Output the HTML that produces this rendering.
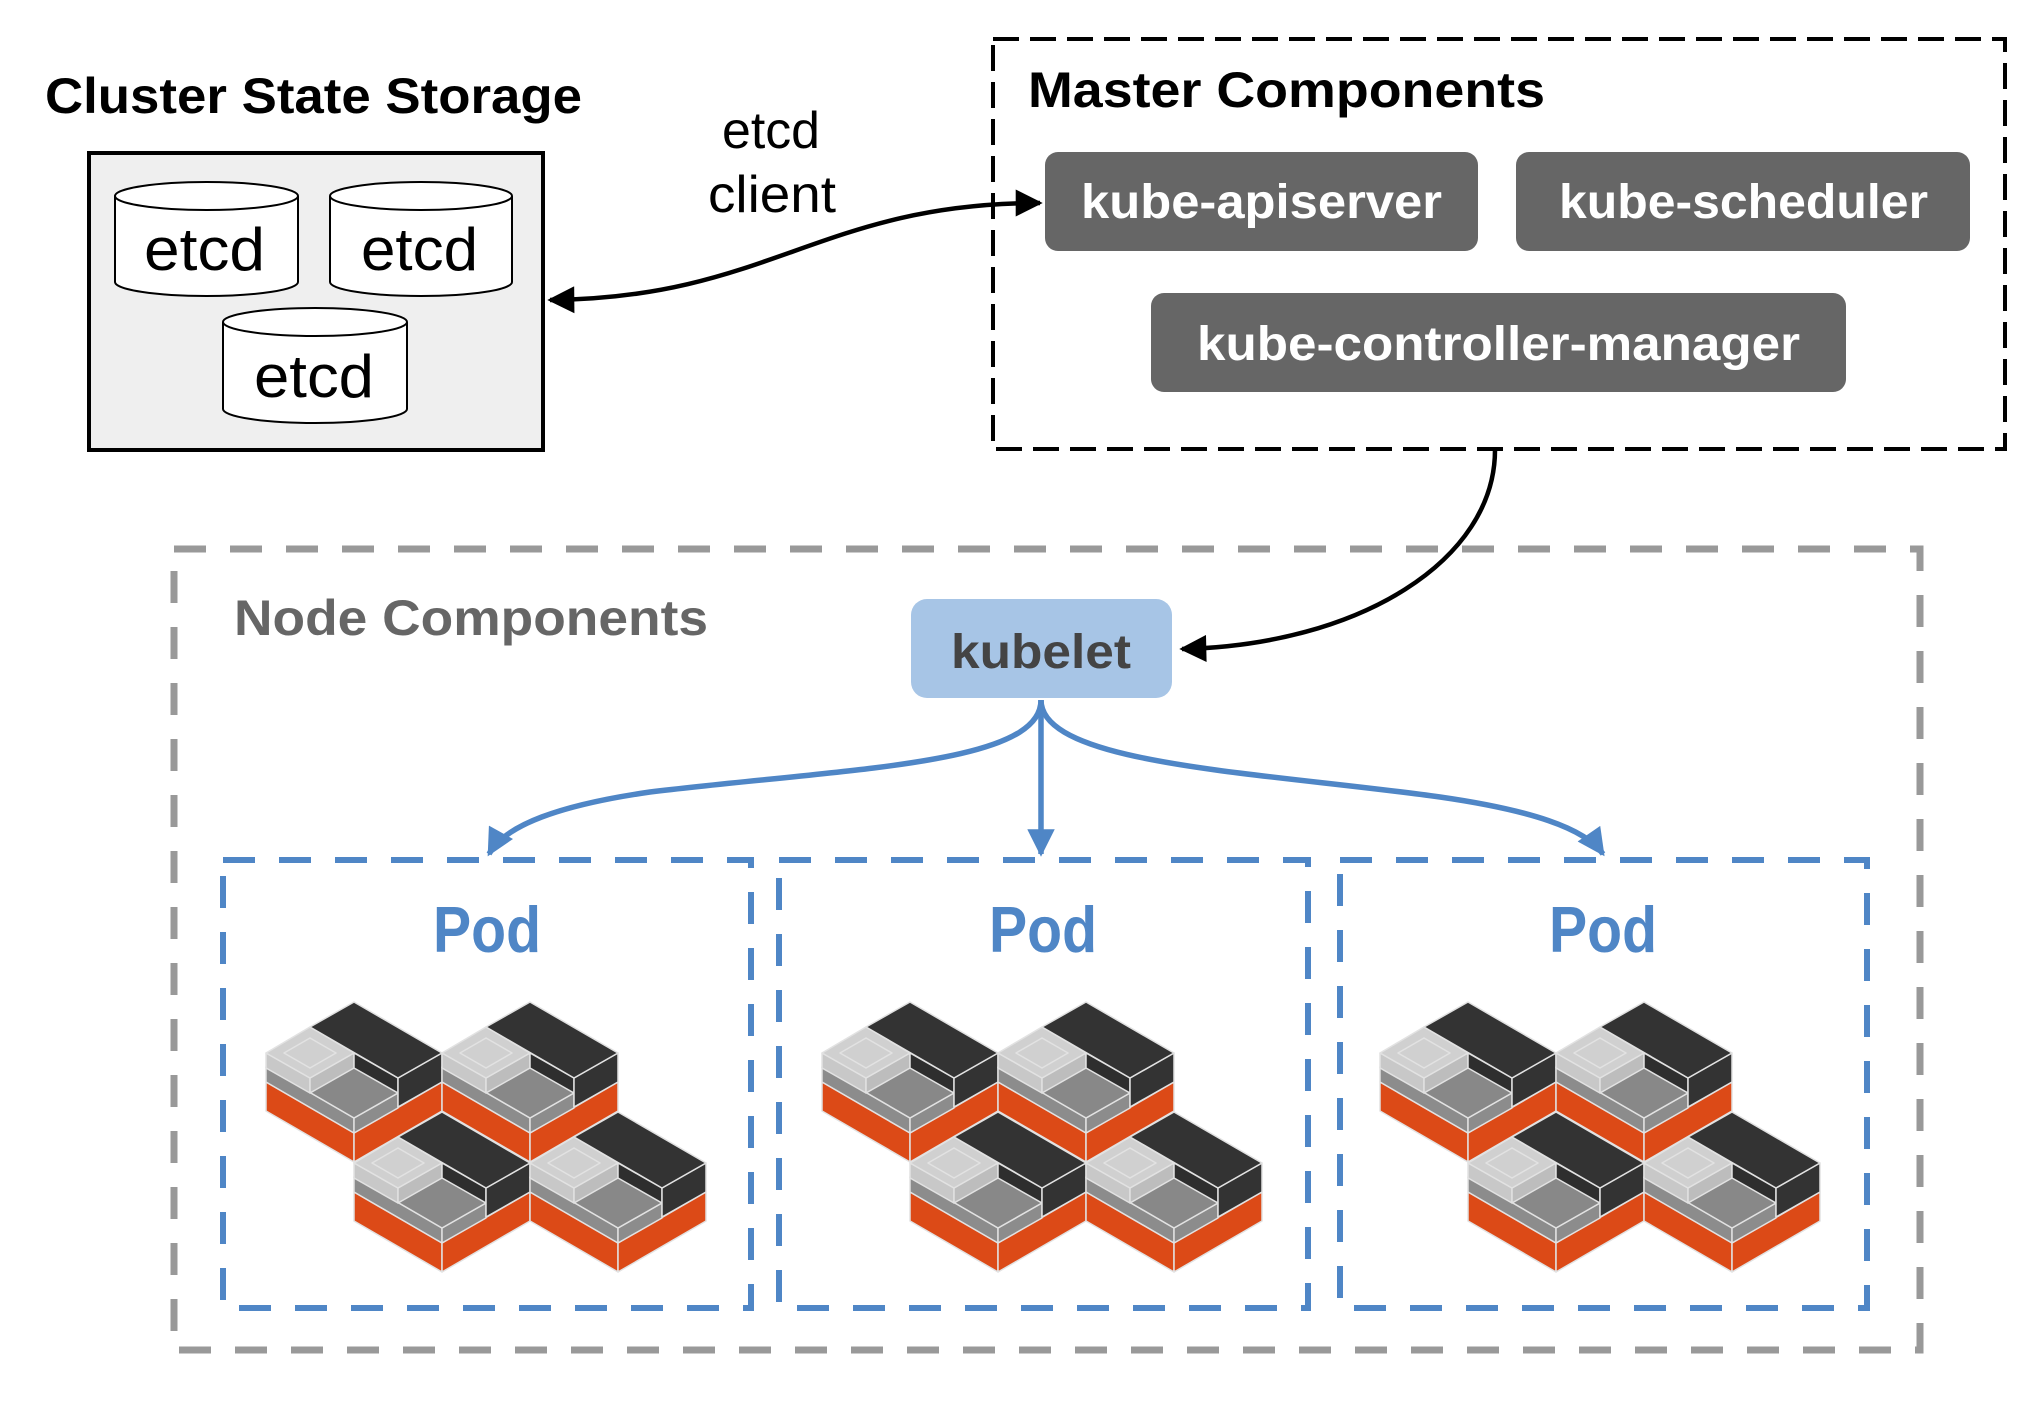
<!DOCTYPE html>
<html><head><meta charset="utf-8"><style>
html,body{margin:0;padding:0;background:#fff;}
svg{display:block;}
text{font-family:"Liberation Sans",sans-serif;font-weight:bold;}
</style></head><body>
<svg width="2036" height="1410" viewBox="0 0 2036 1410" xmlns="http://www.w3.org/2000/svg">
<defs>
<marker id="ab" viewBox="0 0 10 10" refX="9" refY="5" markerWidth="7" markerHeight="6" markerUnits="strokeWidth" orient="auto-start-reverse">
<path d="M0,0 L10,5 L0,10 z" fill="#000"/></marker>
<marker id="ablue" viewBox="0 0 10 10" refX="9" refY="5" markerWidth="5.5" markerHeight="5" markerUnits="strokeWidth" orient="auto">
<path d="M0,0 L10,5 L0,10 z" fill="#4f86c6"/></marker>
<g id="blk" stroke="#e2e2e2" stroke-width="1.5" stroke-linejoin="round">
<polygon points="-88,80 0,131 0,160 -88,109" fill="#dc4a17"/>
<polygon points="0,131 88,80 88,109 0,160" fill="#dc4a17"/>
<polygon points="-88,65 0,116 0,131 -88,80" fill="#8c8c8c"/>
<polygon points="0,116 44,91 44,106 0,131" fill="#8c8c8c"/>
<polygon points="-88,65 -44,40 44,91 0,116" fill="#888"/>
<polygon points="-88,51 -44,76 -44,91 -88,66" fill="#c8c8c8"/>
<polygon points="-44,76 0,51 0,66 -44,91" fill="#bdbdbd"/>
<polygon points="-88,51 -44,25 0,51 -44,76" fill="#d0d0d0"/>
<polygon points="-70,51 -44,36 -18,51 -44,66" fill="none"/>
<polygon points="0,51 44,76 44,91 0,66" fill="#2e2e2e"/>
<polygon points="44,76 88,51 88,80 44,105" fill="#333"/>
<polygon points="0,0 88,51 44,76 -44,25" fill="#333"/>
</g>
<g id="cluster">
<use href="#blk" x="-135" y="1002"/>
<use href="#blk" x="41" y="1002"/>
<use href="#blk" x="-47" y="1112"/>
<use href="#blk" x="129" y="1112"/>
</g>
</defs>

<text x="45" y="113" font-size="50" textLength="537" lengthAdjust="spacingAndGlyphs">Cluster State Storage</text>
<rect x="89" y="153" width="454" height="297" fill="#efefef" stroke="#000" stroke-width="4"/>
<g stroke="#000" stroke-width="2" fill="#fff">
<path d="M115,196 L115,282 A91.5,14 0 0 0 298,282 L298,196"/>
<ellipse cx="206.5" cy="196" rx="91.5" ry="14"/>
<path d="M330,196 L330,282 A91,14 0 0 0 512,282 L512,196"/>
<ellipse cx="421" cy="196" rx="91" ry="14"/>
<path d="M223,322 L223,409 A92,14 0 0 0 407,409 L407,322"/>
<ellipse cx="315" cy="322" rx="92" ry="14"/>
</g>
<text x="144" y="270" font-size="60" textLength="121" lengthAdjust="spacingAndGlyphs" style="font-weight:normal">etcd</text>
<text x="361" y="270" font-size="60" textLength="117" lengthAdjust="spacingAndGlyphs" style="font-weight:normal">etcd</text>
<text x="254" y="397" font-size="60" textLength="120" lengthAdjust="spacingAndGlyphs" style="font-weight:normal">etcd</text>
<text x="722" y="148" font-size="52" textLength="98" lengthAdjust="spacingAndGlyphs" style="font-weight:normal">etcd</text>
<text x="708" y="212" font-size="52" textLength="128" lengthAdjust="spacingAndGlyphs" style="font-weight:normal">client</text>

<path d="M550,300 C770,298 820,203 1040,203" fill="none" stroke="#000" stroke-width="4.5" marker-start="url(#ab)" marker-end="url(#ab)"/>

<rect x="993" y="39" width="1012" height="410" fill="none" stroke="#000" stroke-width="4" stroke-dasharray="26 11"/>
<text x="1028" y="107" font-size="50" textLength="517" lengthAdjust="spacingAndGlyphs">Master Components</text>
<rect x="1045" y="152" width="433" height="99" rx="13" fill="#666"/>
<rect x="1516" y="152" width="454" height="99" rx="13" fill="#666"/>
<rect x="1151" y="293" width="695" height="99" rx="13" fill="#666"/>
<text x="1081" y="218" font-size="48" fill="#fff" textLength="361" lengthAdjust="spacingAndGlyphs">kube-apiserver</text>
<text x="1559" y="218" font-size="48" fill="#fff" textLength="369" lengthAdjust="spacingAndGlyphs">kube-scheduler</text>
<text x="1197" y="360" font-size="48" fill="#fff" textLength="603" lengthAdjust="spacingAndGlyphs">kube-controller-manager</text>

<rect x="174" y="549" width="1746" height="801" fill="none" stroke="#999" stroke-width="7" stroke-dasharray="32 24"/>
<text x="234" y="635" font-size="50" fill="#666" textLength="474" lengthAdjust="spacingAndGlyphs">Node Components</text>

<path d="M1495,450 C1495,560 1360,645 1182,649" fill="none" stroke="#000" stroke-width="4.5" marker-end="url(#ab)"/>

<rect x="911" y="599" width="261" height="99" rx="16" fill="#a7c5e6"/>
<text x="951" y="668" font-size="48" fill="#444" textLength="180" lengthAdjust="spacingAndGlyphs">kubelet</text>

<g fill="none" stroke="#4f86c6" stroke-width="5.5">
<path d="M1041,700 L1041,854" marker-end="url(#ablue)"/>
<path d="M1041,700 C1041,765 850,768 650,792 C560,805 505,825 489,854" marker-end="url(#ablue)"/>
<path d="M1041,700 C1041,765 1260,772 1440,797 C1530,810 1585,828 1603,854" marker-end="url(#ablue)"/>
</g>

<g fill="none" stroke="#4f86c6" stroke-width="6" stroke-dasharray="32 24">
<rect x="223" y="860" width="528" height="448"/>
<rect x="779" y="860" width="529" height="448"/>
<rect x="1340" y="860" width="527" height="448"/>
</g>
<g font-size="65" fill="#4f86c6">
<text x="433" y="952" textLength="108" lengthAdjust="spacingAndGlyphs">Pod</text>
<text x="989" y="952" textLength="108" lengthAdjust="spacingAndGlyphs">Pod</text>
<text x="1549" y="952" textLength="108" lengthAdjust="spacingAndGlyphs">Pod</text>
</g>
<use href="#cluster" x="489" y="0"/>
<use href="#cluster" x="1045" y="0"/>
<use href="#cluster" x="1603" y="0"/>
</svg>
</body></html>
